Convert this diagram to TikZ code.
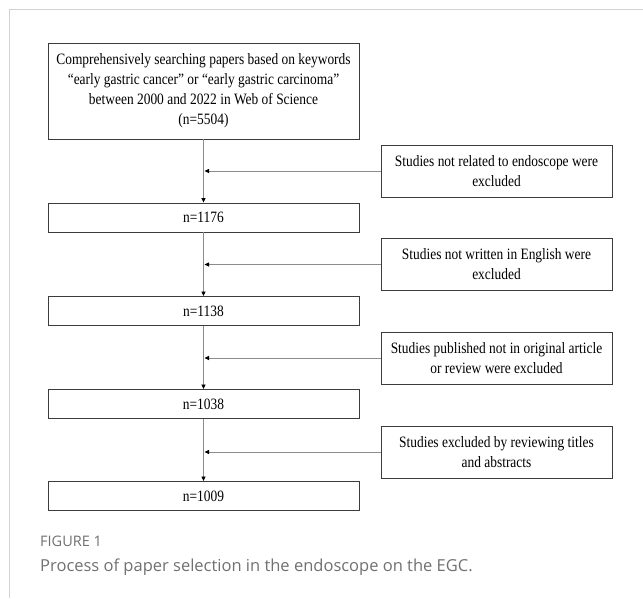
\documentclass[tikz,border=0pt]{standalone}
\usepackage{fontspec}
\setmainfont{Liberation Serif}[FakeStretch=0.85]
\newfontfamily\capfont{Open Sans}
\usetikzlibrary{arrows.meta,positioning}
\definecolor{boxline}{HTML}{3C3C3C}
\definecolor{linkgray}{HTML}{8C8C8C}
\definecolor{capgray}{HTML}{707070}
\definecolor{framegray}{HTML}{D2D2D2}
\tikzset{
	mainbox/.style={draw=boxline, line width=0.9pt, minimum width=311pt, minimum height=29pt, inner sep=0pt, align=center, font=\fontsize{15.8}{20}\selectfont},
	sidebox/.style={draw=boxline, line width=0.9pt, minimum width=231pt, minimum height=52pt, inner sep=0pt, align=center, font=\fontsize{15.8}{20}\selectfont},
	link/.style={draw=linkgray, line width=0.8pt, -{Triangle[length=4.5pt,width=4pt,color=black]}}
}
\begin{document}
\begin{tikzpicture}[x=1pt, y=-1pt]
			\useasboundingbox (0,0) rectangle (643,598);
			\draw[framegray, line width=0.8pt] (9,598) -- (9,9) -- (643,9);
			% main boxes
			\node[mainbox, minimum height=96pt] (search) at (203.5,91) {Comprehensively searching papers based on keywords\\ ``early gastric cancer'' or ``early gastric carcinoma''\\ between 2000 and 2022 in Web of Science\\ (n=5504)};
			\node[mainbox] (n1) at (203.5,217.5) {n=1176};
			\node[mainbox] (n2) at (203.5,311) {n=1138};
			\node[mainbox] (n3) at (203.5,404) {n=1038};
			\node[mainbox] (n4) at (203.5,496) {n=1009};
			% excluded studies
			\node[sidebox] (ex1) at (496.5,171) {Studies not related to endoscope were\\ excluded};
			\node[sidebox] (ex2) at (496.5,264.5) {Studies not written in English were\\ excluded};
			\node[sidebox] (ex3) at (496.5,358) {Studies published not in original article\\ or review were excluded};
			\node[sidebox] (ex4) at (496.5,452) {Studies excluded by reviewing titles\\ and abstracts};
			\foreach \a\b in {search/n1,n1/n2,n2/n3,n3/n4}{
				\draw[link] (\a) -- (\b);
			}
			\foreach \e\m in {ex1/n1,ex2/n2,ex3/n3,ex4/n4}{
				\coordinate (j\e) at (\e.west -| \m.north);
				\draw[link] (\e.west) -- ([xshift=1pt]j\e);
			}
			% caption
			\node[anchor=west, inner sep=0pt, text=capgray, font=\capfont\fontsize{14.5}{16}\selectfont] (figlabel) at (40,541) {FIGURE 1};
			\node[anchor=west, inner sep=0pt, text=capgray, font=\capfont\fontsize{16.5}{20}\selectfont] (figcaption) at (40,567) {Process of paper selection in the endoscope on the EGC.};
		\end{tikzpicture}
\end{document}
